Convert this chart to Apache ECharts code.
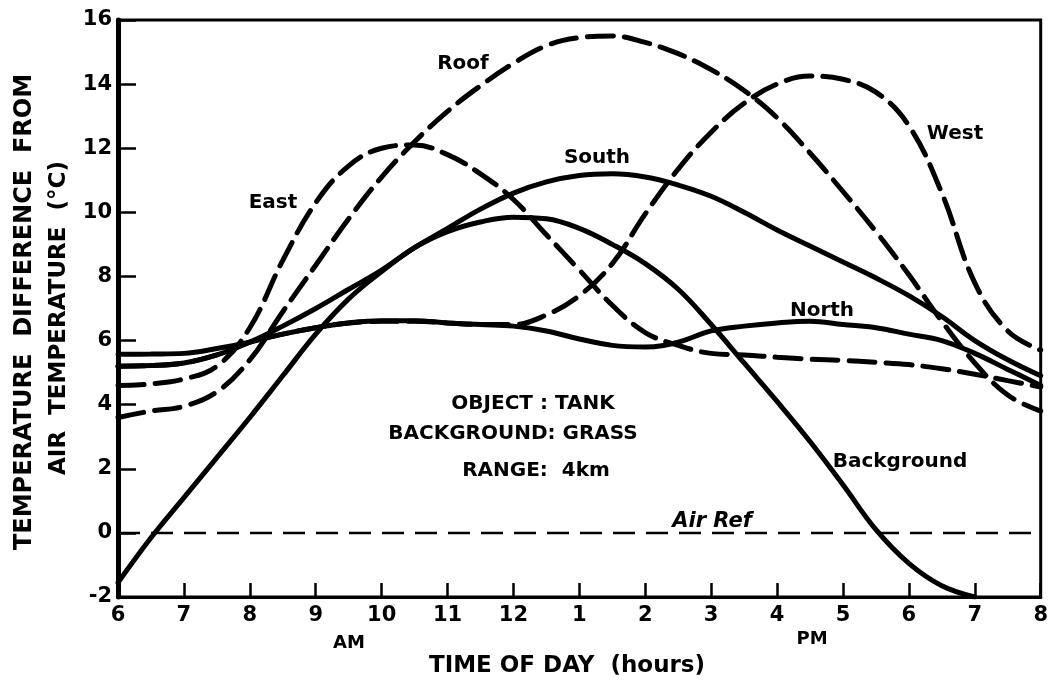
<!DOCTYPE html>
<html>
<head>
<meta charset="utf-8">
<title>Temperature difference from air temperature</title>
<script src="https://cdn.jsdelivr.net/npm/echarts@6/dist/echarts.min.js"></script>
<style>
  html, body { margin: 0; padding: 0; background: #fff; }
  #chart { width: 1051px; height: 684px; }
</style>
</head>
<body>
<div id="chart"></div>
<script>
  // time of day in hours (6 AM .. 8 PM), every half hour
  var hours = [6, 6.5, 7, 7.5, 8, 8.5, 9, 9.5, 10, 10.5, 11, 11.5, 12, 12.5, 13, 13.5,
    14, 14.5, 15, 15.5, 16, 16.5, 17, 17.5, 18, 18.5, 19, 19.5, 20];

  // temperature difference from air temperature (°C)
  var roof = [3.6, 3.8, 3.95, 4.4, 5.4, 6.9, 8.35, 9.8, 11.1, 12.2, 13.15, 13.95, 14.65, 15.2, 15.45, 15.5,
    15.3, 14.95, 14.45, 13.8, 12.95, 11.85, 10.65, 9.4, 8.05, 6.6, 5.3, 4.3, 3.8];
  var east = [4.6, 4.65, 4.8, 5.2, 6.4, 8.5, 10.3, 11.45, 12.0, 12.1, 11.8, 11.2, 10.4, 9.3, 8.2, 7.1,
    6.25, 5.85, 5.6, 5.55, 5.48, 5.42, 5.38, 5.32, 5.25, 5.12, 4.95, 4.75, 4.55];
  var west = [5.2, 5.22, 5.3, 5.55, 5.95, 6.2, 6.4, 6.55, 6.6, 6.6, 6.55, 6.5, 6.5, 6.8, 7.4, 8.4,
    9.95, 11.35, 12.5, 13.4, 14.0, 14.25, 14.15, 13.75, 12.7, 10.6, 7.8, 6.3, 5.7];
  var south = [5.2, 5.22, 5.3, 5.55, 5.95, 6.45, 7.0, 7.6, 8.2, 8.9, 9.5, 10.1, 10.6, 10.95, 11.15, 11.2,
    11.1, 10.85, 10.5, 10.0, 9.45, 8.95, 8.45, 7.95, 7.4, 6.75, 6.0, 5.4, 4.9];
  var north = [5.57, 5.58, 5.6, 5.75, 5.95, 6.2, 6.4, 6.55, 6.62, 6.62, 6.55, 6.5, 6.45, 6.3, 6.05, 5.85,
    5.8, 5.95, 6.3, 6.45, 6.55, 6.6, 6.5, 6.4, 6.2, 6.0, 5.6, 5.1, 4.6];
  var background = [-1.55, -0.15, 1.1, 2.35, 3.6, 4.9, 6.2, 7.3, 8.15, 8.9, 9.4, 9.7, 9.85, 9.8, 9.5, 9.0,
    8.4, 7.6, 6.5, 5.3, 4.1, 2.85, 1.5, 0.1, -0.95, -1.65, -2.0, null, null];
  var airRef = [0, 0, 0, 0, 0, 0, 0, 0, 0, 0, 0, 0, 0, 0, 0, 0, 0, 0, 0, 0, 0, 0, 0, 0, 0, 0, 0, 0, 0];

  var FONT = 'DejaVu Sans';

  function pairs(vals) {
    return hours.map(function (h, i) { return [h, vals[i]]; });
  }

  function curve(name, vals, dashed) {
    return {
      name: name,
      type: 'line',
      data: pairs(vals),
      smooth: 0.4,
      symbol: 'none',
      connectNulls: false,
      lineStyle: { color: '#000', width: 5, type: dashed ? [26, 11] : 'solid', cap: 'round' }
    };
  }

  function text(str, x, y, size, opts) {
    opts = opts || {};
    return {
      type: 'text',
      x: x,
      y: y,
      rotation: opts.rotation || 0,
      z: 100,
      style: {
        text: str,
        fill: '#000',
        fontSize: size,
        fontFamily: FONT,
        fontWeight: opts.weight || 'bold',
        fontStyle: opts.style || 'normal',
        align: 'center',
        verticalAlign: 'middle'
      }
    };
  }

  var chart = echarts.init(document.getElementById('chart'));

  chart.setOption({
    animation: false,
    backgroundColor: '#fff',
    grid: {
      left: 118, right: 5, top: 20, bottom: 87,
      show: true, borderColor: '#000', borderWidth: 3
    },
    xAxis: {
      type: 'value',
      min: 6, max: 20, interval: 1,
      axisLine: { onZero: false, lineStyle: { color: '#000', width: 3 } },
      axisTick: { inside: true, length: 14, lineStyle: { color: '#000', width: 2.5 } },
      splitLine: { show: false },
      axisLabel: {
        color: '#000', fontSize: 21, fontFamily: FONT, fontWeight: 'bold', margin: 8,
        formatter: function (v) { return v > 12 ? String(v - 12) : String(v); }
      }
    },
    yAxis: {
      type: 'value',
      min: -2, max: 16, interval: 2,
      axisLine: { onZero: false, lineStyle: { color: '#000', width: 5 } },
      axisTick: { inside: true, length: 18, lineStyle: { color: '#000', width: 2.5 } },
      splitLine: { show: false },
      axisLabel: { color: '#000', fontSize: 21, fontFamily: FONT, fontWeight: 'bold', margin: 6 }
    },
    series: [
      {
        name: 'Air Ref',
        type: 'line',
        data: pairs(airRef),
        symbol: 'none',
        lineStyle: { color: '#000', width: 2.5, type: [22, 11] }
      },
      curve('Background', background, false),
      curve('North', north, false),
      curve('South', south, false),
      curve('East', east, true),
      curve('West', west, true),
      curve('Roof', roof, true)
    ],
    graphic: [
      // curve names
      text('Roof', 463, 64, 20),
      text('East', 273, 203, 20),
      text('South', 597, 158, 20),
      text('West', 955, 134, 20),
      text('North', 822, 311, 20),
      text('Background', 900, 462, 20),
      text('Air Ref', 712, 522, 21, { style: 'italic' }),
      // notes in the plot
      text('OBJECT : TANK', 533, 404, 20),
      text('BACKGROUND: GRASS', 513, 434, 20),
      text('RANGE:  4km', 536, 471, 20),
      // axis names
      text('AM', 349, 643, 18),
      text('PM', 812, 639, 18),
      text('TIME OF DAY  (hours)', 567, 666, 23),
      text('TEMPERATURE  DIFFERENCE  FROM', 25, 312, 24, { rotation: Math.PI / 2 }),
      text('AIR  TEMPERATURE  (°C)', 59, 318, 23, { rotation: Math.PI / 2 })
    ]
  });
</script>
</body>
</html>
